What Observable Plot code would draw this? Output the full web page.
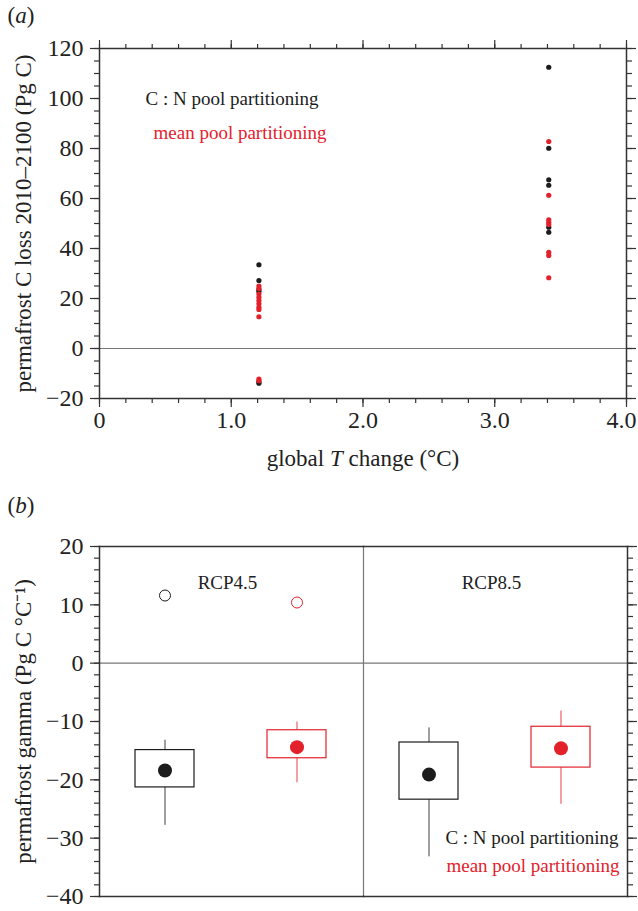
<!DOCTYPE html>
<html><head><meta charset="utf-8">
<script src="https://cdn.jsdelivr.net/npm/d3@7"></script>
<script src="https://cdn.jsdelivr.net/npm/@observablehq/plot@0.6"></script>
<style>
body{margin:0;background:#fff;}
#chart{width:638px;height:911px;position:relative;background:#fff;}
#chart svg{display:block;}
</style></head><body><div id="chart"></div>
<script>
// ---------- Panel (a) data ----------
const scenarios = ["RCP4.5", "RCP8.5"];
const warming = [1.21, 3.41];                       // global T change (°C)
const schemes = ["C : N pool partitioning", "mean pool partitioning"];
const cnLossRcp45   = [33.5, 27.2, 23.5, 22.8, -13.3, -13.9];
const meanLossRcp45 = [25.0, 24.0, 21.8, 20.5, 19.2, 17.9, 16.5, 15.6, 12.7, -12.2, -12.9];
const cnLossRcp85   = [112.5, 80.1, 67.5, 65.3, 48.5, 46.5];
const meanLossRcp85 = [82.8, 61.3, 51.5, 50.5, 49.6, 38.5, 37.2, 28.3];
const xTicksA = [0, 1, 2, 3, 4];
const xTickLabelsA = ["0", "1.0", "2.0", "3.0", "4.0"];
const yTicksA = [-20, 0, 20, 40, 60, 80, 100, 120];
const yTickLabelsA = ["−20", "0", "20", "40", "60", "80", "100", "120"];

// ---------- Panel (b) data (order: RCP4.5 C:N, RCP4.5 mean, RCP8.5 C:N, RCP8.5 mean) ----------
const gammaMedian = [-18.4, -14.4, -19.1, -14.6];
const gammaBoxLow  = [-21.3, -16.3, -23.4, -17.9];
const gammaBoxHigh = [-14.9, -11.5, -13.6, -10.9];
const gammaWhiskerLow  = [-27.8, -20.5, -33.2, -24.2];
const gammaWhiskerHigh = [-13.2, -10.1, -11.1, -8.2];
const gammaOutlierRcp45 = [11.6, 10.4];            // C:N, mean
const yTicksB = [-40, -30, -20, -10, 0, 10, 20];
const yTickLabelsB = ["−40", "−30", "−20", "−10", "0", "10", "20"];

// ---------- styles ----------
const FONT = '"Liberation Serif","Times New Roman",serif';
const BLACK = "#1c1c1c", RED = "#e3212b", AXIS = "#333";
const TICK_FONT_PX = 24;
const minor = (a, b, step) => d3.range(Math.round((b - a) / step) + 1).map(i => +(a + i * step).toFixed(6));

// tables
const lossRows = [
  ...cnLossRcp45.map(v => ({t: warming[0], loss: v, scheme: schemes[0]})),
  ...cnLossRcp85.map(v => ({t: warming[1], loss: v, scheme: schemes[0]})),
  ...meanLossRcp45.map(v => ({t: warming[0], loss: v, scheme: schemes[1]})),
  ...meanLossRcp85.map(v => ({t: warming[1], loss: v, scheme: schemes[1]}))
];
const boxRows = scenarios.flatMap((s, i) => schemes.map((k, j) => {
  const n = i * 2 + j;
  return {scenario: s, scheme: k, med: gammaMedian[n], q1: gammaBoxLow[n], q3: gammaBoxHigh[n],
          lo: gammaWhiskerLow[n], hi: gammaWhiskerHigh[n]};
}));
const outlierRows = schemes.map((k, j) => ({scenario: scenarios[0], scheme: k, value: gammaOutlierRcp45[j]}));

const xTitleA = "global T change (°C)";
const yTitleA = "permafrost C loss 2010–2100 (Pg C)";
const yTitleB = "permafrost gamma (Pg C °C⁻¹)";

const tickOpts = {label: null, stroke: AXIS, strokeWidth: 1.2, fill: "#222", fontSize: TICK_FONT_PX};

// ---------- Panel (a) ----------
const plotA = Plot.plot({
  width: 638, height: 475,
  marginLeft: 99, marginRight: 12, marginTop: 48, marginBottom: 77,
  style: {fontFamily: FONT, fontSize: "22px", color: "#222", background: "white", overflow: "visible"},
  x: {domain: [0, 4]},
  y: {domain: [-20, 120]},
  color: {domain: schemes, range: [BLACK, RED]},
  marks: [
    Plot.ruleY([0], {stroke: "#777", strokeWidth: 1.2}),
    Plot.axisX({...tickOpts, anchor: "bottom", ticks: minor(0, 4, 0.2), tickSize: 5, tickFormat: () => ""}),
    Plot.axisX({...tickOpts, anchor: "bottom", ticks: xTicksA, tickSize: 9, tickPadding: 3,
      tickFormat: d => xTickLabelsA[xTicksA.indexOf(d)]}),
    Plot.axisX({...tickOpts, anchor: "top", ticks: minor(0, 4, 0.2), tickSize: 5, tickFormat: () => ""}),
    Plot.axisX({...tickOpts, anchor: "top", ticks: xTicksA, tickSize: 9, tickFormat: () => ""}),
    Plot.axisY({...tickOpts, anchor: "left", ticks: minor(-20, 120, 5), tickSize: 5, tickFormat: () => ""}),
    Plot.axisY({...tickOpts, anchor: "left", ticks: yTicksA, tickSize: 9, tickPadding: 7,
      tickFormat: d => yTickLabelsA[yTicksA.indexOf(d)]}),
    Plot.axisY({...tickOpts, anchor: "right", ticks: minor(-20, 120, 5), tickSize: 5, tickFormat: () => ""}),
    Plot.axisY({...tickOpts, anchor: "right", ticks: yTicksA, tickSize: 9, tickFormat: () => ""}),
    Plot.frame({stroke: AXIS, strokeWidth: 1.5}),
    Plot.dot(lossRows.filter(d => d.scheme === schemes[0]), {x: "t", y: "loss", r: 2.6, fill: "scheme"}),
    Plot.dot(lossRows.filter(d => d.scheme === schemes[1]), {x: "t", y: "loss", r: 2.6, fill: "scheme"}),
    Plot.text([schemes[0]], {frameAnchor: "top-left", dx: 46, dy: 50, textAnchor: "start", lineAnchor: "middle", fontSize: 19, fill: BLACK}),
    Plot.text([schemes[1]], {frameAnchor: "top-left", dx: 54, dy: 84, textAnchor: "start", lineAnchor: "middle", fontSize: 19, fill: RED}),
    Plot.text([xTitleA], {frameAnchor: "bottom", dy: 60, lineAnchor: "middle", fontSize: 23, fill: "#222"}),
    Plot.text([yTitleA], {frameAnchor: "left", rotate: -90, dx: -76, textAnchor: "middle", lineAnchor: "middle", fontSize: 23, fill: "#222"}),
    Plot.text(["(a)"], {frameAnchor: "top-left", dx: -92, dy: -33, textAnchor: "start", lineAnchor: "middle", fontSize: 23, fill: "#222"})
  ]
});

// ---------- Panel (b) ----------
const plotB = Plot.plot({
  width: 638, height: 436,
  marginLeft: 99, marginRight: 11, marginTop: 71, marginBottom: 15,
  style: {fontFamily: FONT, fontSize: "22px", color: "#222", background: "white", overflow: "visible"},
  fx: {domain: scenarios, axis: null, padding: 0},
  x: {domain: schemes, axis: null, paddingInner: 0.55, paddingOuter: 0.275},
  y: {domain: [-40, 20]},
  color: {domain: schemes, range: [BLACK, RED]},
  marks: [
    Plot.ruleY([0], {stroke: "#777", strokeWidth: 1.2}),
    Plot.frame({anchor: "right", facetAnchor: "left", stroke: "#777", strokeWidth: 1.2}),
    Plot.axisY({...tickOpts, anchor: "left", ticks: minor(-40, 20, 2), tickSize: 5, tickFormat: () => ""}),
    Plot.axisY({...tickOpts, anchor: "left", ticks: yTicksB, tickSize: 9, tickPadding: 7,
      tickFormat: d => yTickLabelsB[yTicksB.indexOf(d)]}),
    Plot.axisY({...tickOpts, anchor: "right", ticks: minor(-40, 20, 2), tickSize: 5, tickFormat: () => ""}),
    Plot.axisY({...tickOpts, anchor: "right", ticks: yTicksB, tickSize: 9, tickFormat: () => ""}),
    Plot.frame({anchor: "top", stroke: AXIS, strokeWidth: 1.5}),
    Plot.frame({anchor: "bottom", stroke: AXIS, strokeWidth: 1.5}),
    Plot.frame({anchor: "left", facetAnchor: "left", stroke: AXIS, strokeWidth: 1.5}),
    Plot.frame({anchor: "right", facetAnchor: "right", stroke: AXIS, strokeWidth: 1.5}),
    Plot.ruleX(boxRows, {fx: "scenario", x: "scheme", y1: "lo", y2: "hi", stroke: "scheme", strokeWidth: 1, strokeOpacity: 0.85}),
    Plot.barY(boxRows, {fx: "scenario", x: "scheme", y1: "q1", y2: "q3", fill: "white", stroke: "scheme", strokeWidth: 1.2}),
    Plot.dot(boxRows, {fx: "scenario", x: "scheme", y: "med", r: 7, fill: "scheme"}),
    Plot.dot(outlierRows, {fx: "scenario", x: "scheme", y: "value", r: 5.5, stroke: "scheme", fill: "white", strokeWidth: 1}),
    Plot.text(scenarios, {fx: d => d, frameAnchor: "top", dy: 36, dx: -4, lineAnchor: "middle", fontSize: 19, fill: "#222"}),
    Plot.text([schemes[0]], {fx: () => scenarios[1], frameAnchor: "bottom-right", dx: -9, dy: -59, textAnchor: "end", lineAnchor: "middle", fontSize: 19, fill: BLACK}),
    Plot.text([schemes[1]], {fx: () => scenarios[1], frameAnchor: "bottom-right", dx: -8, dy: -31, textAnchor: "end", lineAnchor: "middle", fontSize: 19, fill: RED}),
    Plot.text([yTitleB], {fx: () => scenarios[0], frameAnchor: "left", rotate: -90, dx: -76, textAnchor: "middle", lineAnchor: "middle", fontSize: 23, fill: "#222"}),
    Plot.text(["(b)"], {fx: () => scenarios[0], frameAnchor: "top-left", dx: -92, dy: -41, textAnchor: "start", lineAnchor: "middle", fontSize: 23, fill: "#222"})
  ]
});

function styleText(svg, full, parts) {
  svg.querySelectorAll("text").forEach(t => {
    if (t.textContent === full) {
      t.textContent = "";
      for (const [s, italic] of parts) {
        const ts = document.createElementNS("http://www.w3.org/2000/svg", "tspan");
        ts.textContent = s;
        if (italic) ts.setAttribute("font-style", "italic");
        t.appendChild(ts);
      }
    }
  });
}
styleText(plotA, xTitleA, [["global ", false], ["T", true], [" change (°C)", false]]);
styleText(plotA, "(a)", [["(", false], ["a", true], [")", false]]);
styleText(plotB, "(b)", [["(", false], ["b", true], [")", false]]);

// enforce tick-label font on every tick label text
function enlargeTicks(svg, labels) {
  const set = new Set(labels);
  svg.querySelectorAll("text").forEach(t => {
    if (set.has(t.textContent)) {
      t.setAttribute("font-size", TICK_FONT_PX);
      t.style.fontSize = TICK_FONT_PX + "px";
      t.style.fontFamily = FONT;
      if (t.parentNode && t.parentNode.style) { t.parentNode.style.fontSize = TICK_FONT_PX + "px"; t.parentNode.style.fontFamily = FONT; }
    }
  });
}
enlargeTicks(plotA, [...xTickLabelsA, ...yTickLabelsA]);
enlargeTicks(plotB, yTickLabelsB);

// keep the last x tick label ("4.0") inside the page edge, as in the reference
plotA.querySelectorAll("text").forEach(t => {
  if (t.textContent === xTickLabelsA[xTickLabelsA.length - 1]) t.setAttribute("dx", "-5");
});

const root = document.getElementById("chart");
root.appendChild(plotA);
root.appendChild(plotB);
</script></body></html>
